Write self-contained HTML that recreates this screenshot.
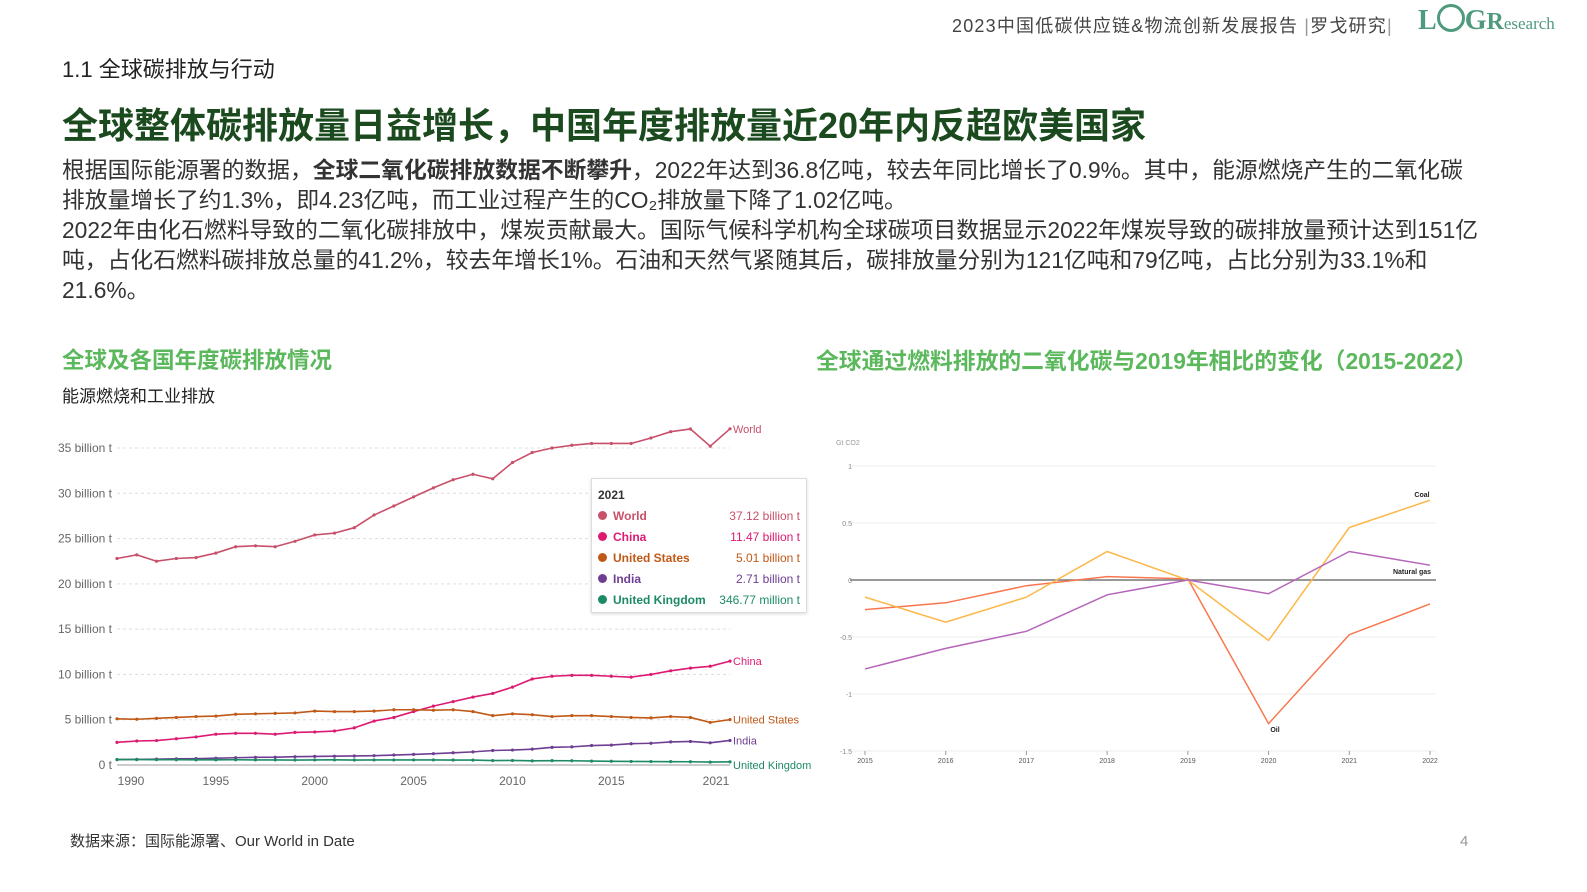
<!DOCTYPE html>
<html><head><meta charset="utf-8">
<style>
body{margin:0;width:1587px;height:892px;background:#fff;position:relative;overflow:hidden;font-family:"Liberation Sans","Noto Sans CJK SC",sans-serif;}
.a{position:absolute;white-space:nowrap;}
.body{font-size:22.8px;color:#333;line-height:30px;left:62px;}
</style></head><body>
<div class="a" style="left:952px;top:12px;font-size:18px;color:#444;letter-spacing:1.2px">2023中国低碳供应链&amp;物流创新发展报告 <span style="color:#999">|</span>罗戈研究<span style="color:#999">|</span></div>
<div class="a" style="left:1418px;top:4px;font-size:28px;font-weight:bold;color:#4f9a7d;font-family:'Liberation Serif',serif">L<span style="display:inline-block;width:28px;height:28px;border:3px solid #4f9a7d;border-radius:50%;box-sizing:border-box;vertical-align:-3px"></span>G<span style="font-size:24px">R</span><span style="font-size:17px;font-weight:normal">esearch</span></div>
<div class="a" style="left:62px;top:52px;font-size:22px;color:#222">1.1 全球碳排放与行动</div>
<div class="a" style="left:62px;top:97px;font-size:36px;font-weight:bold;color:#1b4a1f">全球整体碳排放量日益增长，中国年度排放量近20年内反超欧美国家</div>
<div class="a body" style="top:155px">根据国际能源署的数据，<b>全球二氧化碳排放数据不断攀升</b>，2022年达到36.8亿吨，较去年同比增长了0.9%。其中，能源燃烧产生的二氧化碳<br>排放量增长了约1.3%，即4.23亿吨，而工业过程产生的CO₂排放量下降了1.02亿吨。</div>
<div class="a body" style="top:215px">2022年由化石燃料导致的二氧化碳排放中，煤炭贡献最大。国际气候科学机构全球碳项目数据显示2022年煤炭导致的碳排放量预计达到151亿<br>吨，占化石燃料碳排放总量的41.2%，较去年增长1%。石油和天然气紧随其后，碳排放量分别为121亿吨和79亿吨，占比分别为33.1%和<br>21.6%。</div>
<div class="a" style="left:62px;top:343px;font-size:22.5px;font-weight:bold;color:#5cb85c">全球及各国年度碳排放情况</div>
<div class="a" style="left:62px;top:382px;font-size:17px;color:#222">能源燃烧和工业排放</div>
<div class="a" style="left:816px;top:343px;font-size:22.8px;font-weight:bold;color:#5cb85c">全球通过燃料排放的二氧化碳与2019年相比的变化（2015-2022）</div>
<svg class="a" style="left:0;top:0" width="1587" height="892">
<g id="lc"></g>
<g id="rc"></g>
</svg>
<div class="a" style="left:591px;top:478px;width:214px;height:133px;background:#fff;border:1px solid #ddd;box-shadow:0 1px 3px rgba(0,0,0,.15);font-size:12px;font-weight:bold">
<div style="position:absolute;left:6px;top:9px;color:#333">2021</div>
<div id="tt"></div>
</div>
<div class="a" style="left:70px;top:830px;font-size:15px;color:#333">数据来源：国际能源署、Our World in Date</div>
<div class="a" style="left:1460px;top:833px;font-size:15px;color:#999">4</div>
<script>
const years=[1990,1991,1992,1993,1994,1995,1996,1997,1998,1999,2000,2001,2002,2003,2004,2005,2006,2007,2008,2009,2010,2011,2012,2013,2014,2015,2016,2017,2018,2019,2020,2021];
const world=[22.8,23.2,22.5,22.8,22.9,23.4,24.1,24.2,24.1,24.7,25.4,25.6,26.2,27.6,28.6,29.6,30.6,31.5,32.1,31.6,33.4,34.5,35.0,35.3,35.5,35.5,35.5,36.1,36.8,37.1,35.2,37.12];
const china=[2.5,2.65,2.7,2.9,3.1,3.4,3.5,3.5,3.4,3.6,3.65,3.75,4.1,4.85,5.25,5.9,6.5,7.0,7.5,7.9,8.6,9.5,9.8,9.9,9.9,9.8,9.7,10.0,10.4,10.7,10.9,11.47];
const us=[5.1,5.05,5.15,5.25,5.35,5.4,5.6,5.65,5.7,5.75,5.95,5.9,5.9,5.95,6.1,6.1,6.05,6.1,5.9,5.45,5.65,5.55,5.35,5.45,5.45,5.35,5.25,5.2,5.35,5.25,4.7,5.01];
const india=[0.6,0.62,0.65,0.68,0.7,0.75,0.8,0.85,0.86,0.92,0.95,0.97,1.0,1.03,1.1,1.17,1.25,1.35,1.45,1.6,1.65,1.75,1.95,2.0,2.15,2.2,2.35,2.4,2.55,2.6,2.45,2.71];
const uk=[0.6,0.6,0.59,0.58,0.57,0.57,0.58,0.56,0.56,0.55,0.56,0.57,0.55,0.56,0.56,0.56,0.56,0.55,0.54,0.49,0.5,0.46,0.48,0.47,0.43,0.41,0.39,0.38,0.37,0.36,0.32,0.35];
const yTicks=[0,5,10,15,20,25,30,35];
const yTickLabels=["0 t","5 billion t","10 billion t","15 billion t","20 billion t","25 billion t","30 billion t","35 billion t"];
const xTicks=[1990,1995,2000,2005,2010,2015,2021];
const ttNames=["World","China","United States","India","United Kingdom"];
const ttValues=["37.12 billion t","11.47 billion t","5.01 billion t","2.71 billion t","346.77 million t"];

const rYears=[2015,2016,2017,2018,2019,2020,2021,2022];
const coal=[-0.15,-0.37,-0.15,0.25,0,-0.53,0.46,0.70];
const oil=[-0.26,-0.2,-0.05,0.03,0.01,-1.26,-0.48,-0.21];
const gas=[-0.78,-0.6,-0.45,-0.13,0,-0.12,0.25,0.13];
const rTicks=[1,0.5,0,-0.5,-1,-1.5];
const rTickLabels=["1","0.5","0","-0.5","-1","-1.5"];

const NS='http://www.w3.org/2000/svg';
function mk(p,t,a,txt){const e=document.createElementNS(NS,t);for(const k in a)e.setAttribute(k,a[k]);if(txt!=null)e.textContent=txt;p.appendChild(e);return e;}
const lc=document.getElementById('lc');
const lx=y=>117+(y-1990)*(613/31);
const ly=v=>765-v*(317/35);
yTicks.forEach((t,i)=>{
 const g=mk(lc,'line',{x1:117,x2:730,y1:ly(t),y2:ly(t),stroke:t===0?'#999':'#ddd','stroke-dasharray':t===0?'':'3,3'});
 
 const l=mk(lc,'text',{x:112,y:ly(t)+4,'text-anchor':'end','font-size':12,fill:'#666','font-family':'Liberation Sans'},yTickLabels[i]);
 
});
xTicks.forEach(t=>{
 let x=lx(t);if(t===1990)x+=14;if(t===2021)x-=14;
 const l=mk(lc,'text',{x:x,y:785,'text-anchor':'middle','font-size':12,fill:'#666','font-family':'Liberation Sans'},String(t));
 
});
const series=[[world,'#c8506a','World'],[china,'#dd1a72','China'],[us,'#c05917','United States'],[india,'#6d3e91','India'],[uk,'#1d8a65','United Kingdom']];
series.forEach(([d,c,n])=>{
 const pts=d.map((v,i)=>lx(years[i])+','+ly(v)).join(' ');
 const p=mk(lc,'polyline',{points:pts,fill:'none',stroke:c,'stroke-width':1.6});
 
 d.forEach((v,i)=>{const m=mk(lc,'circle',{cx:lx(years[i]),cy:ly(v),r:1.6,fill:c});
  });
 let ty=ly(d[d.length-1])+4;if(n==='United Kingdom')ty+=3;
 const l=mk(lc,'text',{x:733,y:ty,'font-size':11,fill:c,'font-family':'Liberation Sans'},n);
 
});
const tt=document.getElementById('tt');
ttNames.forEach((n,i)=>{
 const r=document.createElement('div');
 
 
 const c=series[i][1];
 r.style.cssText='position:absolute;left:6px;width:202px;top:'+(30+i*21)+'px;color:'+c;
 r.innerHTML='<span style="display:inline-block;width:9px;height:9px;border-radius:50%;background:'+c+';margin-right:6px"></span>'+n+'<span style="float:right;font-weight:normal">'+ttValues[i]+'</span>';
 tt.appendChild(r);
});
const rc=document.getElementById('rc');
const rx=y=>865+(y-2015)*(565/7);
const ry=v=>580-v*114;
mk(rc,'text',{x:836,y:445,'font-size':7,fill:'#999','font-family':'Liberation Sans'},'Gt CO2');
rTicks.forEach((t,i)=>{
 const g=mk(rc,'line',{x1:850,x2:1436,y1:ry(t),y2:ry(t),stroke:t===0?'#777':'#eee','stroke-width':t===0?1.5:1});
 
 const l=mk(rc,'text',{x:852,y:ry(t)+3,'text-anchor':'end','font-size':7,fill:'#888','font-family':'Liberation Sans'},rTickLabels[i]);
 
});
rYears.forEach(t=>{
 const l=mk(rc,'text',{x:rx(t),y:763,'text-anchor':'middle','font-size':7,fill:'#555','font-family':'Liberation Sans'},String(t));
 
 mk(rc,'line',{x1:rx(t),x2:rx(t),y1:751,y2:755,stroke:'#999'});
});
[[oil,'#f9774f'],[coal,'#fdb748'],[gas,'#b565b9']].forEach(([d,c])=>{
 const p=mk(rc,'polyline',{points:d.map((v,i)=>rx(rYears[i])+','+ry(v)).join(' '),fill:'none',stroke:c,'stroke-width':1.5});
 
});
[['Coal',1422,497],['Natural gas',1412,574],['Oil',1275,732]].forEach(([t,x,y])=>{
 const l=mk(rc,'text',{x:x,y:y,'text-anchor':'middle','font-size':7,'font-weight':'bold',fill:'#222','font-family':'Liberation Sans'},t);
 
});
</script>
</body></html>
